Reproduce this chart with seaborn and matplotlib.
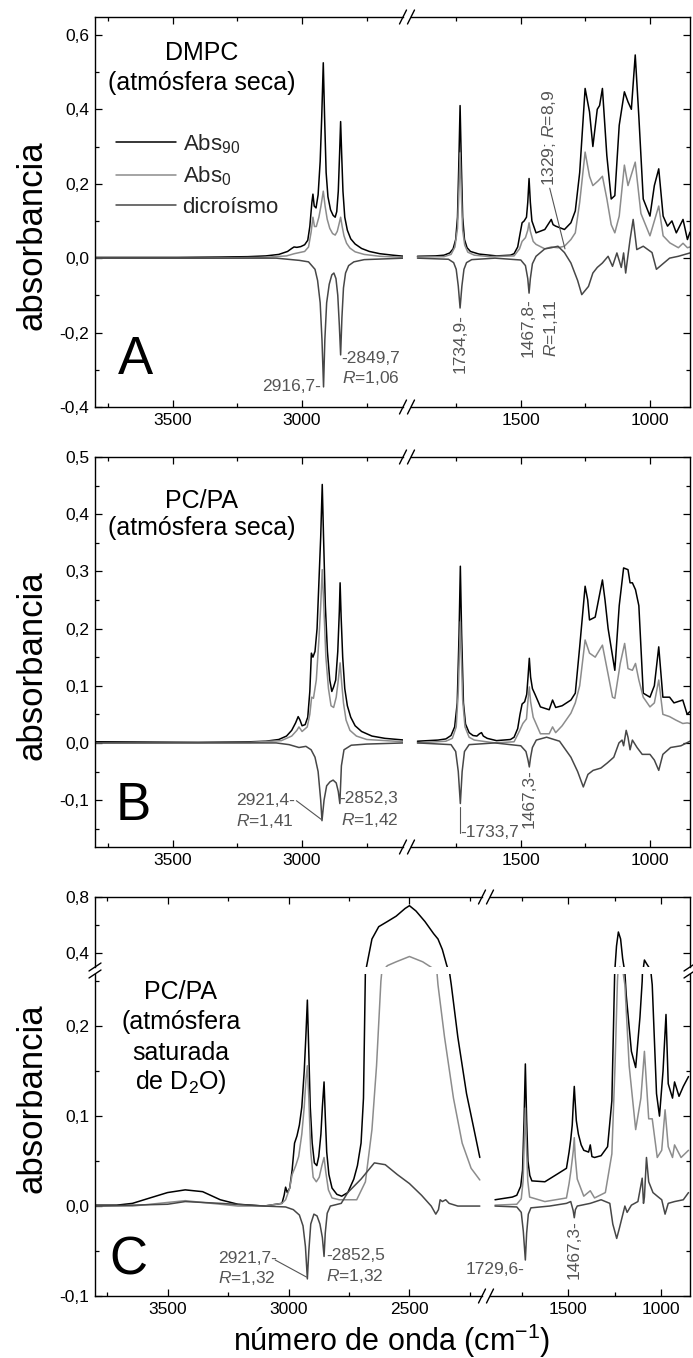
import numpy as np
import pandas as pd
import matplotlib
matplotlib.use("Agg")
import matplotlib.pyplot as plt
from matplotlib.lines import Line2D
from matplotlib.ticker import MultipleLocator, FuncFormatter
import seaborn as sns

sns.set_theme(style="ticks")
plt.rcParams["font.family"] = ["Liberation Sans", "DejaVu Sans"]
plt.rcParams["mathtext.fontset"] = "custom"
plt.rcParams["mathtext.rm"] = "Liberation Sans"
plt.rcParams["mathtext.it"] = "Liberation Sans:italic"
plt.rcParams["mathtext.bf"] = "Liberation Sans:bold"

# ---- spectra: (wavenumber cm-1, absorbance) ----
# Panel A: DMPC, dry atmosphere
A_ABS90 = [(3800, 0.002), (3650, 0.002), (3480, 0.002), (3310, 0.003), (3210, 0.004), (3140, 0.006),
           (3090, 0.010), (3056, 0.018), (3040, 0.026), (3031, 0.030), (3020, 0.029), (3005, 0.031),
           (2990, 0.036), (2978, 0.048), (2970, 0.085), (2962, 0.150), (2958, 0.172), (2953, 0.140),
           (2946, 0.135), (2938, 0.170), (2930, 0.260), (2924, 0.380), (2918, 0.525), (2913, 0.380),
           (2907, 0.230), (2900, 0.165), (2890, 0.130), (2880, 0.115), (2872, 0.110), (2866, 0.125),
           (2860, 0.180), (2855, 0.280), (2851, 0.367), (2847, 0.280), (2842, 0.180), (2835, 0.110),
           (2825, 0.075), (2812, 0.052), (2795, 0.038), (2770, 0.026), (2740, 0.018), (2700, 0.012),
           (2650, 0.008), (2605, 0.005),
           (1900, 0.005), (1830, 0.006), (1797, 0.008), (1775, 0.014), (1762, 0.025), (1752, 0.050),
           (1745, 0.110), (1740, 0.250), (1735, 0.410), (1730, 0.250), (1725, 0.110), (1718, 0.050),
           (1708, 0.028), (1695, 0.018), (1662, 0.011), (1594, 0.006), (1540, 0.008), (1526, 0.012),
           (1512, 0.030), (1503, 0.065), (1495, 0.095), (1487, 0.100), (1478, 0.110), (1473, 0.150),
           (1468, 0.214), (1463, 0.150), (1457, 0.100), (1441, 0.068), (1407, 0.077), (1382, 0.104),
           (1375, 0.090), (1365, 0.086), (1331, 0.077), (1306, 0.095), (1289, 0.127), (1272, 0.230),
           (1251, 0.456), (1234, 0.393), (1221, 0.300), (1204, 0.400), (1195, 0.410), (1184, 0.456),
           (1167, 0.276), (1150, 0.159), (1136, 0.168), (1119, 0.357), (1099, 0.447), (1085, 0.420),
           (1072, 0.400), (1057, 0.546), (1043, 0.380), (1026, 0.159), (1000, 0.113), (983, 0.195),
           (966, 0.240), (949, 0.113), (932, 0.086), (915, 0.100), (898, 0.068), (872, 0.104),
           (855, 0.050), (845, 0.070)]
A_ABS0 = [(3800, 0.000), (3400, 0.000), (3150, 0.002), (3060, 0.006), (3030, 0.012), (2990, 0.018),
          (2975, 0.030), (2965, 0.070), (2958, 0.110), (2952, 0.085), (2945, 0.085), (2935, 0.110),
          (2927, 0.140), (2918, 0.180), (2911, 0.140), (2903, 0.105), (2893, 0.080), (2882, 0.066),
          (2872, 0.062), (2864, 0.072), (2857, 0.092), (2851, 0.110), (2845, 0.085), (2838, 0.060),
          (2828, 0.040), (2815, 0.027), (2795, 0.017), (2760, 0.010), (2700, 0.005), (2605, 0.002),
          (1900, 0.003), (1797, 0.004), (1770, 0.010), (1755, 0.030), (1745, 0.080), (1740, 0.170),
          (1735, 0.283), (1730, 0.170), (1725, 0.075), (1717, 0.035), (1705, 0.016), (1680, 0.008),
          (1620, 0.004), (1526, 0.006), (1505, 0.025), (1495, 0.045), (1482, 0.055), (1473, 0.075),
          (1468, 0.095), (1463, 0.072), (1452, 0.045), (1441, 0.037), (1407, 0.025), (1382, 0.030),
          (1356, 0.028), (1331, 0.032), (1306, 0.050), (1289, 0.068), (1272, 0.150), (1251, 0.285),
          (1234, 0.220), (1221, 0.195), (1200, 0.208), (1184, 0.220), (1167, 0.160), (1150, 0.090),
          (1136, 0.068), (1119, 0.113), (1099, 0.250), (1085, 0.195), (1057, 0.258), (1035, 0.120),
          (1000, 0.060), (983, 0.100), (966, 0.140), (949, 0.060), (923, 0.041), (890, 0.028),
          (872, 0.040), (855, 0.028), (845, 0.030)]
A_DICHRO = [(3800, 0.000), (3100, 0.000), (3040, -0.004), (3010, -0.006), (2975, -0.010), (2960, -0.022),
            (2950, -0.030), (2940, -0.060), (2930, -0.120), (2923, -0.220), (2917, -0.346), (2912, -0.220),
            (2905, -0.120), (2895, -0.070), (2885, -0.045), (2877, -0.040), (2869, -0.055), (2862, -0.100),
            (2856, -0.180), (2851, -0.260), (2846, -0.160), (2840, -0.080), (2832, -0.040), (2820, -0.020),
            (2800, -0.010), (2760, -0.004), (2605, 0.000),
            (1900, 0.000), (1780, -0.003), (1760, -0.012), (1750, -0.030), (1742, -0.075), (1735, -0.134),
            (1728, -0.075), (1720, -0.030), (1710, -0.012), (1690, -0.004), (1600, 0.000), (1500, -0.005),
            (1482, -0.020), (1473, -0.055), (1468, -0.094), (1463, -0.055), (1455, -0.015), (1441, 0.005),
            (1407, 0.025), (1382, 0.028), (1356, 0.032), (1331, 0.015), (1306, -0.013), (1280, -0.060),
            (1264, -0.098), (1238, -0.076), (1221, -0.040), (1204, -0.025), (1184, -0.013), (1162, 0.005),
            (1145, -0.022), (1128, 0.014), (1111, -0.025), (1102, 0.014), (1094, -0.040), (1077, 0.050),
            (1065, 0.104), (1051, 0.023), (1026, 0.032), (992, 0.015), (975, -0.030), (958, -0.020),
            (924, 0.000), (890, 0.005), (845, 0.014)]

# Panel B: PC/PA, dry atmosphere
B_ABS90 = [(3800, 0.002), (3400, 0.001), (3200, 0.002), (3140, 0.003), (3090, 0.006), (3060, 0.012),
           (3040, 0.022), (3025, 0.035), (3015, 0.046), (3008, 0.040), (3000, 0.030), (2988, 0.032),
           (2978, 0.045), (2970, 0.090), (2964, 0.157), (2958, 0.150), (2950, 0.160), (2942, 0.200),
           (2935, 0.280), (2928, 0.360), (2922, 0.452), (2917, 0.360), (2910, 0.240), (2902, 0.160),
           (2893, 0.110), (2885, 0.090), (2878, 0.098), (2870, 0.110), (2862, 0.160), (2856, 0.230),
           (2853, 0.280), (2849, 0.220), (2843, 0.150), (2835, 0.095), (2825, 0.065), (2812, 0.045),
           (2795, 0.030), (2770, 0.020), (2730, 0.012), (2680, 0.008), (2605, 0.005),
           (1900, 0.003), (1820, 0.005), (1790, 0.007), (1770, 0.013), (1756, 0.028), (1746, 0.070),
           (1739, 0.190), (1734, 0.309), (1729, 0.190), (1722, 0.070), (1714, 0.033), (1700, 0.018),
           (1685, 0.013), (1670, 0.012), (1660, 0.016), (1652, 0.018), (1645, 0.012), (1630, 0.008),
           (1594, 0.004), (1540, 0.006), (1526, 0.010), (1512, 0.025), (1503, 0.050), (1495, 0.068),
           (1485, 0.072), (1477, 0.085), (1472, 0.115), (1467, 0.148), (1462, 0.115), (1455, 0.095),
           (1445, 0.085), (1424, 0.063), (1390, 0.058), (1377, 0.075), (1365, 0.062), (1340, 0.065),
           (1306, 0.075), (1289, 0.087), (1272, 0.168), (1251, 0.274), (1241, 0.250), (1234, 0.215),
           (1212, 0.220), (1184, 0.285), (1174, 0.250), (1162, 0.200), (1136, 0.127), (1119, 0.240),
           (1102, 0.306), (1085, 0.303), (1077, 0.280), (1068, 0.280), (1056, 0.268), (1043, 0.240),
           (1026, 0.087), (1000, 0.080), (983, 0.100), (966, 0.168), (950, 0.080), (924, 0.080),
           (907, 0.070), (873, 0.075), (856, 0.050), (845, 0.055)]
B_ABS0 = [(3800, 0.000), (3200, 0.001), (3080, 0.004), (3040, 0.012), (3020, 0.022), (3012, 0.028),
          (3000, 0.020), (2980, 0.028), (2970, 0.050), (2963, 0.080), (2956, 0.078), (2945, 0.110),
          (2935, 0.180), (2928, 0.240), (2922, 0.303), (2916, 0.240), (2908, 0.150), (2898, 0.095),
          (2888, 0.065), (2878, 0.062), (2868, 0.080), (2860, 0.110), (2853, 0.140), (2847, 0.105),
          (2840, 0.070), (2830, 0.040), (2815, 0.022), (2790, 0.012), (2750, 0.006), (2605, 0.002),
          (1900, 0.000), (1790, 0.003), (1765, 0.008), (1750, 0.028), (1742, 0.090), (1738, 0.150),
          (1734, 0.212), (1730, 0.150), (1725, 0.075), (1716, 0.028), (1700, 0.010), (1680, 0.005),
          (1600, 0.000), (1526, 0.002), (1506, 0.020), (1492, 0.034), (1478, 0.042), (1472, 0.075),
          (1467, 0.098), (1462, 0.072), (1452, 0.045), (1424, 0.016), (1390, 0.016), (1377, 0.028),
          (1365, 0.018), (1340, 0.030), (1306, 0.052), (1289, 0.070), (1272, 0.100), (1251, 0.180),
          (1234, 0.157), (1212, 0.150), (1184, 0.171), (1162, 0.120), (1145, 0.080), (1136, 0.078),
          (1115, 0.139), (1098, 0.174), (1085, 0.130), (1068, 0.127), (1056, 0.139), (1043, 0.110),
          (1026, 0.080), (1000, 0.063), (983, 0.070), (966, 0.110), (950, 0.050), (924, 0.046),
          (900, 0.040), (873, 0.034), (856, 0.035), (845, 0.034)]
B_DICHRO = [(3800, 0.000), (3100, 0.000), (3050, -0.003), (3012, -0.008), (2985, -0.006), (2965, -0.012),
            (2950, -0.025), (2938, -0.050), (2928, -0.100), (2923, -0.136), (2915, -0.100), (2905, -0.075),
            (2892, -0.068), (2880, -0.065), (2868, -0.070), (2860, -0.085), (2854, -0.106), (2848, -0.040),
            (2838, -0.012), (2810, -0.004), (2750, -0.002), (2605, 0.000),
            (1900, 0.000), (1770, -0.003), (1752, -0.015), (1742, -0.050), (1734, -0.106), (1727, -0.050),
            (1718, -0.015), (1700, -0.003), (1600, 0.000), (1500, -0.005), (1480, -0.015), (1472, -0.030),
            (1467, -0.042), (1462, -0.025), (1455, -0.008), (1440, 0.005), (1400, 0.010), (1350, 0.003),
            (1306, -0.025), (1280, -0.050), (1258, -0.077), (1240, -0.055), (1220, -0.048), (1190, -0.044),
            (1165, -0.035), (1140, -0.025), (1120, 0.000), (1108, 0.005), (1102, -0.005), (1092, 0.022),
            (1085, 0.010), (1077, -0.012), (1068, 0.005), (1050, -0.008), (1030, -0.020), (1000, -0.020),
            (983, -0.030), (966, -0.048), (950, -0.020), (920, -0.008), (880, -0.005), (845, 0.003)]

# Panel C: PC/PA, D2O-saturated atmosphere
C_ABS90 = [(3800, 0.001), (3710, 0.001), (3645, 0.003), (3573, 0.009), (3500, 0.015), (3427, 0.018),
           (3355, 0.016), (3282, 0.007), (3209, 0.002), (3100, 0.000), (3027, 0.003), (3018, 0.012),
           (3012, 0.021), (3005, 0.015), (2995, 0.020), (2985, 0.040), (2975, 0.070), (2965, 0.078),
           (2955, 0.090), (2945, 0.110), (2935, 0.150), (2928, 0.190), (2922, 0.229), (2917, 0.180),
           (2910, 0.110), (2902, 0.070), (2893, 0.048), (2883, 0.045), (2875, 0.055), (2866, 0.080),
           (2860, 0.110), (2853, 0.138), (2848, 0.100), (2842, 0.060), (2833, 0.035), (2820, 0.020),
           (2800, 0.013), (2780, 0.011), (2755, 0.015), (2730, 0.030), (2715, 0.045), (2700, 0.070),
           (2690, 0.120), (2682, 0.263), (2655, 0.500), (2627, 0.588), (2591, 0.625), (2555, 0.663),
           (2518, 0.718), (2500, 0.738), (2473, 0.700), (2436, 0.625), (2400, 0.538), (2382, 0.500),
           (2364, 0.425), (2346, 0.313), (2336, 0.263), (2327, 0.246), (2300, 0.188), (2264, 0.125),
           (2236, 0.089), (2209, 0.054),
           (1893, 0.007), (1800, 0.010), (1776, 0.012), (1755, 0.022), (1745, 0.040), (1737, 0.095),
           (1730, 0.158), (1723, 0.095), (1716, 0.050), (1706, 0.034), (1695, 0.028), (1625, 0.027),
           (1555, 0.036), (1509, 0.042), (1495, 0.060), (1486, 0.074), (1478, 0.090), (1472, 0.115),
           (1467, 0.133), (1462, 0.115), (1456, 0.095), (1445, 0.080), (1430, 0.068), (1416, 0.062),
           (1390, 0.060), (1381, 0.068), (1372, 0.055), (1358, 0.054), (1323, 0.056), (1288, 0.066),
           (1265, 0.117), (1250, 0.258), (1240, 0.450), (1230, 0.550), (1218, 0.500), (1207, 0.360),
           (1195, 0.260), (1188, 0.235), (1160, 0.172), (1137, 0.154), (1114, 0.210), (1102, 0.250),
           (1095, 0.300), (1090, 0.350), (1079, 0.325), (1067, 0.300), (1055, 0.260), (1048, 0.246),
           (1025, 0.125), (1009, 0.100), (990, 0.150), (974, 0.213), (962, 0.136), (939, 0.120),
           (928, 0.138), (904, 0.122), (881, 0.133), (853, 0.144)]
C_ABS0 = [(3800, 0.000), (3645, 0.000), (3500, 0.004), (3427, 0.006), (3355, 0.004), (3209, 0.000),
          (3100, 0.000), (3027, 0.003), (3012, 0.007), (2995, 0.020), (2985, 0.035), (2970, 0.045),
          (2958, 0.055), (2945, 0.080), (2935, 0.110), (2928, 0.140), (2922, 0.156), (2916, 0.120),
          (2908, 0.060), (2898, 0.032), (2885, 0.027), (2873, 0.032), (2862, 0.045), (2853, 0.054),
          (2846, 0.038), (2835, 0.018), (2820, 0.009), (2790, 0.007), (2718, 0.007), (2682, 0.027),
          (2655, 0.085), (2636, 0.156), (2618, 0.250), (2609, 0.275), (2591, 0.310), (2555, 0.337),
          (2500, 0.375), (2445, 0.337), (2400, 0.287), (2391, 0.275), (2382, 0.246), (2355, 0.188),
          (2318, 0.120), (2282, 0.070), (2245, 0.042), (2209, 0.029),
          (1893, 0.001), (1776, 0.002), (1752, 0.008), (1742, 0.028), (1736, 0.070), (1730, 0.109),
          (1724, 0.065), (1717, 0.028), (1707, 0.010), (1625, 0.005), (1509, 0.009), (1495, 0.025),
          (1486, 0.038), (1472, 0.062), (1467, 0.076), (1462, 0.055), (1451, 0.030), (1416, 0.011),
          (1381, 0.017), (1358, 0.009), (1300, 0.015), (1265, 0.058), (1248, 0.156), (1235, 0.250),
          (1222, 0.300), (1212, 0.270), (1195, 0.246), (1172, 0.156), (1137, 0.085), (1109, 0.120),
          (1090, 0.172), (1067, 0.097), (1048, 0.097), (1021, 0.054), (997, 0.062), (979, 0.107),
          (962, 0.066), (939, 0.054), (928, 0.068), (893, 0.054), (853, 0.062)]
C_DICHRO = [(3800, 0.000), (3645, 0.001), (3500, 0.002), (3427, 0.005), (3282, 0.003), (3100, 0.000),
            (3012, -0.001), (2980, -0.004), (2955, -0.010), (2940, -0.022), (2930, -0.045), (2922, -0.081),
            (2916, -0.050), (2908, -0.020), (2895, -0.009), (2882, -0.011), (2870, -0.020), (2860, -0.035),
            (2853, -0.056), (2848, -0.030), (2840, -0.008), (2827, 0.000), (2782, 0.003), (2755, 0.015),
            (2700, 0.030), (2645, 0.048), (2600, 0.046), (2550, 0.035), (2500, 0.025), (2450, 0.012),
            (2410, 0.000), (2391, -0.009), (2380, -0.004), (2373, 0.007), (2364, 0.005), (2350, 0.007),
            (2336, 0.003), (2300, 0.000), (2209, 0.000),
            (1893, 0.000), (1776, -0.001), (1752, -0.007), (1741, -0.028), (1730, -0.060), (1723, -0.030),
            (1714, -0.009), (1700, -0.002), (1600, 0.000), (1509, 0.003), (1486, 0.005), (1473, -0.005),
            (1467, -0.013), (1461, -0.004), (1451, 0.000), (1381, 0.003), (1323, 0.007), (1276, 0.003),
            (1260, -0.020), (1239, -0.036), (1225, -0.025), (1207, -0.010), (1195, 0.000), (1183, -0.007),
            (1160, 0.001), (1125, 0.005), (1102, 0.031), (1095, 0.003), (1090, 0.010), (1079, 0.054),
            (1067, 0.027), (1044, 0.015), (1021, 0.011), (997, 0.007), (979, -0.009), (962, 0.003),
            (928, 0.005), (881, 0.007), (853, 0.015)]

SERIES_LABELS = ["Abs$_{90}$", "Abs$_{0}$", "dicroísmo"]
COLORS = ["#000000", "#8c8c8c", "#474747"]
LW = 1.1
TXT = "#555555"
FS_TICK = 12.5
FS_NOTE = 12.5

W, H = 693, 1358
fig = plt.figure(figsize=(W / 100, H / 100), dpi=100)


def add_ax(x0, x1, y0, y1):
    return fig.add_axes([x0 / W, 1 - y1 / H, (x1 - x0) / W, (y1 - y0) / H])


def comma(v, _):
    if abs(v) < 1e-9:
        v = 0.0
    return f"{v:.1f}".replace(".", ",")


def plot_series(ax, pairs, color, lo, hi):
    arr = np.array(pairs, dtype=float)
    m = (arr[:, 0] >= lo) & (arr[:, 0] <= hi)
    df = pd.DataFrame({"wn": arr[m, 0], "absorb": arr[m, 1]})
    sns.lineplot(data=df, x="wn", y="absorb", ax=ax, color=color, lw=LW,
                 sort=False, estimator=None, legend=False)
    return ax.lines[-1]


def style(ax, xlim, ylim, ymaj, ymin, side, top=True, bottom=True):
    ax.set_xlim(*xlim)
    ax.set_ylim(*ylim)
    ax.set_xlabel("")
    ax.set_ylabel("")
    ax.xaxis.set_major_locator(MultipleLocator(500))
    ax.xaxis.set_minor_locator(MultipleLocator(250))
    ax.yaxis.set_major_locator(MultipleLocator(ymaj))
    ax.yaxis.set_minor_locator(MultipleLocator(ymin))
    ax.yaxis.set_major_formatter(FuncFormatter(comma))
    ax.xaxis.set_major_formatter(FuncFormatter(lambda v, _: f"{v:.0f}"))
    left = side == "left"
    for s in ax.spines.values():
        s.set_color("black")
        s.set_linewidth(1.0)
    ax.spines["top"].set_visible(top)
    ax.spines["bottom"].set_visible(bottom)
    ax.spines["left"].set_visible(left)
    ax.spines["right"].set_visible(not left)
    ax.tick_params(which="both", direction="in", color="black", width=0.9,
                   top=top, bottom=bottom, left=left, right=not left,
                   labelleft=left, labelright=False, labeltop=False, labelbottom=bottom,
                   labelsize=FS_TICK, labelcolor="black", pad=4)
    ax.tick_params(which="major", length=5)
    ax.tick_params(which="minor", length=3)


def slash(xc, yc, dx, dy):
    fig.add_artist(Line2D([(xc - dx) / W, (xc + dx) / W], [1 - (yc + dy) / H, 1 - (yc - dy) / H],
                          color="black", lw=1.0))


def note(ax, x, y, s, **kw):
    kw.setdefault("ha", "left")
    kw.setdefault("va", "center")
    ax.text(x, y, s, color=TXT, fontsize=FS_NOTE, **kw)


# ---------------- Panels A and B (same wavenumber scale) ----------------
XL_AB = (3800, 2610)
XR_AB = (1925, 845)
LX0, LX1, RX0, RX1 = 95, 403, 411, 690

panels_ab = [
    (17, 407, (-0.4, 0.648), 0.2, 0.1, (A_ABS90, A_ABS0, A_DICHRO)),
    (457, 847, (-0.182, 0.5), 0.1, 0.05, (B_ABS90, B_ABS0, B_DICHRO)),
]
axes_ab = []
for (y0, y1, ylim, ymaj, ymin, series) in panels_ab:
    axl = add_ax(LX0, LX1, y0, y1)
    axr = add_ax(RX0, RX1, y0, y1)
    handles = []
    for pairs, col in zip(series, COLORS):
        handles.append(plot_series(axl, pairs, col, 2000, 4000))
        plot_series(axr, pairs, col, 0, 2000)
    style(axl, XL_AB, ylim, ymaj, ymin, "left")
    style(axr, XR_AB, ylim, ymaj, ymin, "right")
    for yc in (y0, y1):
        slash(LX1, yc, 3.5, 7)
        slash(RX0, yc, 3.5, 7)
    axes_ab.append((axl, axr, handles))

# Panel A texts
axl, axr, handles = axes_ab[0]
axl.text(3389, 0.55, "DMPC", ha="center", va="center", fontsize=18, color="black")
axl.text(3389, 0.47, "(atmósfera seca)", ha="center", va="center", fontsize=18, color="black")
axl.text(3645, -0.274, "A", ha="center", va="center", fontsize=38, color="black")
axl.legend(handles=handles, labels=SERIES_LABELS, loc="upper left", bbox_to_anchor=(0.068, 0.705),
           frameon=False, fontsize=16, handlelength=2.7, handletextpad=0.3, labelspacing=0.4,
           borderpad=0, borderaxespad=0)
note(axl, 2928, -0.345, "2916,7-", ha="right")
note(axl, 2850, -0.270, "-2849,7")
note(axl, 2846, -0.322, "$R$=1,06")
note(axr, 1735, -0.150, "1734,9-", ha="center", va="top", rotation=90)
note(axr, 1470, -0.266, "1467,8-", ha="center", va="bottom", rotation=90)
note(axr, 1385, -0.266, "$R$=1,11", ha="center", va="bottom", rotation=90)
note(axr, 1392, 0.195, "1329; $R$=8,9", ha="center", va="bottom", rotation=90)
axr.plot([1388, 1329], [0.188, 0.025], color=TXT, lw=0.8)

# Panel B texts
axl, axr, handles = axes_ab[1]
axl.text(3389, 0.423, "PC/PA", ha="center", va="center", fontsize=18, color="black")
axl.text(3389, 0.376, "(atmósfera seca)", ha="center", va="center", fontsize=18, color="black")
axl.text(3654, -0.11, "B", ha="center", va="center", fontsize=38, color="black")
note(axl, 3255, -0.101, "2921,4-")
note(axl, 3255, -0.136, "$R$=1,41")
axl.plot([3022, 2925], [-0.101, -0.134], color=TXT, lw=0.8)
note(axl, 2855, -0.098, "-2852,3")
note(axl, 2848, -0.134, "$R$=1,42")
axr.plot([1734, 1734], [-0.112, -0.157], color=TXT, lw=0.8)
note(axr, 1733, -0.157, "-1733,7")
note(axr, 1467, -0.046, "1467,3-", ha="center", va="top", rotation=90)

# ---------------- Panel C (broken x and y) ----------------
XL_C = (3800, 2200)
XR_C = (1920, 845)
CX0, CX1, CX2, CX3 = 95, 482, 490, 690
CY_TOP, CY_UB, CY_LT, CY_BOT = 897, 967, 974, 1296
YU = (0.30, 0.80)
YL = (-0.10, 0.258)

cul = add_ax(CX0, CX1, CY_TOP, CY_UB)
cur = add_ax(CX2, CX3, CY_TOP, CY_UB)
cll = add_ax(CX0, CX1, CY_LT, CY_BOT)
clr = add_ax(CX2, CX3, CY_LT, CY_BOT)
for pairs, col in zip((C_ABS90, C_ABS0, C_DICHRO), COLORS):
    for ax in (cul, cll):
        plot_series(ax, pairs, col, 2000, 4000)
    for ax in (cur, clr):
        plot_series(ax, pairs, col, 0, 2000)
style(cul, XL_C, YU, 0.4, 0.2, "left", top=True, bottom=False)
style(cur, XR_C, YU, 0.4, 0.2, "right", top=True, bottom=False)
style(cll, XL_C, YL, 0.1, 0.05, "left", top=False, bottom=True)
style(clr, XR_C, YL, 0.1, 0.05, "right", top=False, bottom=True)
for yc in (CY_TOP, CY_BOT):
    slash(CX1, yc, 3.5, 7)
    slash(CX2, yc, 3.5, 7)
for xc in (CX0, CX3):
    slash(xc, CY_UB, 6, 4)
    slash(xc, CY_LT, 6, 4)

for y, s in zip((0.238, 0.205, 0.170, 0.138),
                ("PC/PA", "(atmósfera", "saturada", "de D$_2$O)")):
    cll.text(3445, y, s, ha="center", va="center", fontsize=18, color="black")
cll.text(3664, -0.060, "C", ha="center", va="center", fontsize=38, color="black")
note(cll, 3291, -0.058, "2921,7-")
note(cll, 3291, -0.080, "$R$=1,32")
cll.plot([3055, 2925], [-0.060, -0.079], color=TXT, lw=0.8)
note(cll, 2845, -0.055, "-2852,5")
note(cll, 2845, -0.078, "$R$=1,32")
note(clr, 1737, -0.071, "1729,6-", ha="right")
note(clr, 1467, -0.016, "1467,3-", ha="center", va="top", rotation=90)

# ---------------- shared labels ----------------
for yc in (235, 665, 1098):
    fig.text(32 / W, 1 - yc / H, "absorbancia", rotation=90, ha="center", va="center",
             fontsize=25, color="black")
fig.text(392 / W, 1 - 1341 / H, "número de onda (cm$^{-1}$)", ha="center", va="center",
         fontsize=22, color="black")

fig.savefig("out.png", dpi=100, facecolor="white")
